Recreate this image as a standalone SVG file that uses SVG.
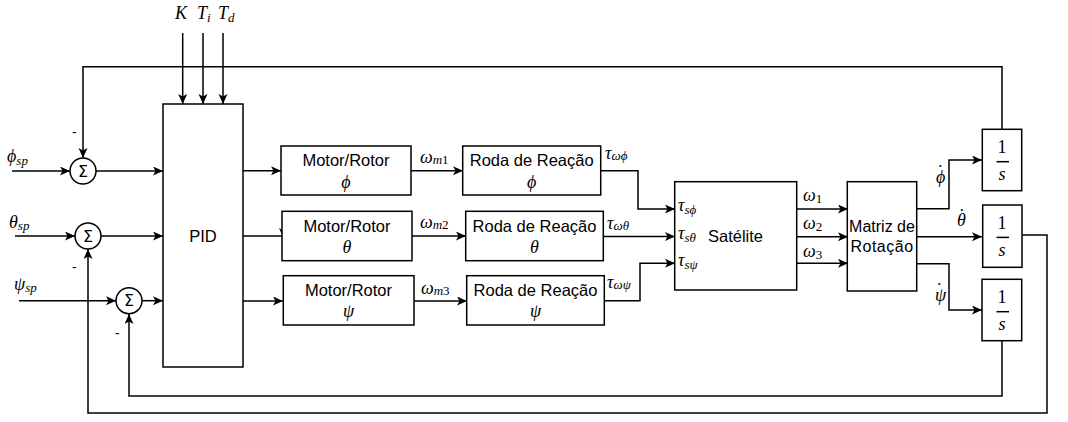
<svg xmlns="http://www.w3.org/2000/svg" width="1068" height="422" viewBox="0 0 1068 422">
<style>
.box{fill:#fff;stroke:#000;stroke-width:1.5}
.ln{fill:none;stroke:#000;stroke-width:1.5}
.arr{marker-end:url(#ah)}
.t{font-family:"Liberation Sans",Arial,sans-serif;font-size:16.5px;fill:#000}
.m{font-family:"Liberation Serif","Times New Roman",serif;font-style:italic;font-size:18px;fill:#000}
.s{font-size:13px}
.u{font-style:normal}
.sig{font-family:"DejaVu Sans",sans-serif;font-size:16px;fill:#000}
.neg{font-family:"Liberation Sans",Arial,sans-serif;font-size:14px;fill:#000}
</style>
<defs>
<marker id="ah" markerUnits="userSpaceOnUse" markerWidth="12" markerHeight="10" refX="10" refY="4.5" orient="auto">
<path d="M0,0 L10,4.5 L0,9 L2.5,4.5 z" fill="#000"/>
</marker>
</defs>
<rect width="1068" height="422" fill="#fff"/>

<g id="connectors">
<path class="ln arr" d="M182.7,33 V104"/>
<path class="ln arr" d="M203,33 V104"/>
<path class="ln arr" d="M223,33 V104"/>
<path class="ln arr" d="M1002,129 V66.7 H83 V158"/>
<path class="ln arr" d="M12,171 H70"/>
<path class="ln arr" d="M96,171 H163"/>
<path class="ln arr" d="M15,236 H75"/>
<path class="ln arr" d="M101,236 H163"/>
<path class="ln arr" d="M19,300.7 H116"/>
<path class="ln arr" d="M142,300.7 H163"/>
<path class="ln arr" d="M1022,235 H1047 V413 H88 V249"/>
<path class="ln arr" d="M1002,341 V396 H129 V314"/>
<path class="ln arr" d="M243,170.7 H281"/>
<path class="ln" d="M243,236 H282"/>
<path d="M283,237 L279,228 L283,230.5 L287,228 z" fill="#000"/>
<path class="ln arr" d="M243,301 H283"/>
<path class="ln arr" d="M411,170.7 H463"/>
<path class="ln arr" d="M412,236 H466"/>
<path class="ln arr" d="M414,301 H467"/>
<path class="ln arr" d="M601,170.7 H638 V209 H675"/>
<path class="ln arr" d="M603,236.5 H675"/>
<path class="ln arr" d="M604,300.7 H640 V263.3 H675"/>
<path class="ln arr" d="M797,209 H848"/>
<path class="ln arr" d="M797,236.7 H848"/>
<path class="ln arr" d="M797,263.3 H848"/>
<path class="ln arr" d="M917,208.7 H949 V160 H982"/>
<path class="ln arr" d="M917,236.7 H982"/>
<path class="ln arr" d="M917,263.7 H949 V310 H982"/>
</g>

<g id="labels">
<text class="m" x="175" y="19">K</text>
<text class="m" x="197" y="19">T<tspan class="s" dy="3">i</tspan></text>
<text class="m" x="218" y="19">T<tspan class="s" dy="3">d</tspan></text>
<text class="m" x="7" y="162">ϕ<tspan class="s" dy="3">sp</tspan></text>
<text class="m" x="9" y="228">θ<tspan class="s" dy="2">sp</tspan></text>
<text class="m" x="14" y="290">ψ<tspan class="s" dy="2">sp</tspan></text>
<text class="neg" x="72" y="137">-</text>
<text class="neg" x="72" y="272">-</text>
<text class="neg" x="115" y="338">-</text>
<text class="m" x="420" y="163">ω<tspan class="s" dy="1">m<tspan class="u">1</tspan></tspan></text>
<text class="m" x="420" y="228">ω<tspan class="s" dy="1">m<tspan class="u">2</tspan></tspan></text>
<text class="m" x="421" y="294">ω<tspan class="s" dy="1">m<tspan class="u">3</tspan></tspan></text>
<text class="m" x="605" y="159">τ<tspan class="s" dy="1">ωϕ</tspan></text>
<text class="m" x="607" y="229">τ<tspan class="s" dy="1">ωθ</tspan></text>
<text class="m" x="607" y="288">τ<tspan class="s" dy="1">ωψ</tspan></text>
<text class="m" x="803" y="201">ω<tspan class="s u" dy="2">1</tspan></text>
<text class="m" x="803" y="229">ω<tspan class="s u" dy="2">2</tspan></text>
<text class="m" x="803" y="257">ω<tspan class="s u" dy="2">3</tspan></text>
<text class="m" x="936" y="183">ϕ<tspan class="u" dx="-8" dy="-5">˙</tspan></text>
<text class="m" x="957" y="226">θ<tspan class="u" dx="-7" dy="-4">˙</tspan></text>
<text class="m" x="935" y="301">ψ<tspan class="u" dx="-10" dy="-5">˙</tspan></text>
</g>

<g id="sum1"><circle cx="83" cy="171" r="13" fill="#fff" stroke="#000" stroke-width="1.5"/><text class="sig" x="83" y="176.5" text-anchor="middle">Σ</text></g>
<g id="sum2"><circle cx="88" cy="236" r="13" fill="#fff" stroke="#000" stroke-width="1.5"/><text class="sig" x="88" y="241.5" text-anchor="middle">Σ</text></g>
<g id="sum3"><circle cx="129" cy="300.7" r="13" fill="#fff" stroke="#000" stroke-width="1.5"/><text class="sig" x="129" y="306.2" text-anchor="middle">Σ</text></g>

<g id="pid"><rect class="box" x="163" y="104" width="80" height="263"/><text class="t" x="203" y="242" text-anchor="middle">PID</text></g>

<g id="motor1"><rect class="box" x="281" y="146" width="130" height="49"/><text class="t" x="346" y="166" text-anchor="middle">Motor/Rotor</text><text class="m" x="346" y="188" text-anchor="middle">ϕ</text></g>
<g id="motor2"><rect class="box" x="282" y="211.3" width="130" height="49.4"/><text class="t" x="347" y="232" text-anchor="middle">Motor/Rotor</text><text class="m" x="347" y="253" text-anchor="middle">θ</text></g>
<g id="motor3"><rect class="box" x="283.3" y="275.7" width="130.7" height="49.3"/><text class="t" x="348.5" y="296" text-anchor="middle">Motor/Rotor</text><text class="m" x="348.5" y="317" text-anchor="middle">ψ</text></g>

<g id="roda1"><rect class="box" x="462.7" y="146" width="138" height="49"/><text class="t" x="531.7" y="166" text-anchor="middle">Roda de Reação</text><text class="m" x="531.7" y="188" text-anchor="middle">ϕ</text></g>
<g id="roda2"><rect class="box" x="465.7" y="211.3" width="137.6" height="49.4"/><text class="t" x="534.5" y="232" text-anchor="middle">Roda de Reação</text><text class="m" x="534.5" y="253" text-anchor="middle">θ</text></g>
<g id="roda3"><rect class="box" x="466.7" y="275.7" width="137.6" height="49.3"/><text class="t" x="535.5" y="296" text-anchor="middle">Roda de Reação</text><text class="m" x="535.5" y="317" text-anchor="middle">ψ</text></g>

<g id="satelite"><rect class="box" x="674.7" y="181.7" width="122" height="108.3"/>
<text class="m" x="678" y="211">τ<tspan class="s" dy="3">sϕ</tspan></text>
<text class="m" x="678" y="239">τ<tspan class="s" dy="3">sθ</tspan></text>
<text class="m" x="678" y="266">τ<tspan class="s" dy="3">sψ</tspan></text>
<text class="t" x="708" y="242">Satélite</text></g>

<g id="matriz"><rect class="box" x="847.3" y="181.7" width="69.4" height="109.3"/><text class="t" x="882" y="232" text-anchor="middle" style="font-size:16px">Matriz de</text><text class="t" x="882" y="252" text-anchor="middle" letter-spacing="0.5" style="font-size:16px">Rotação</text></g>

<g id="int1"><rect class="box" x="982.3" y="129.3" width="39.4" height="61.4"/><text class="m u" x="1002" y="153" text-anchor="middle">1</text><path class="ln" d="M996.5,161.7 H1009" stroke-width="1"/><text class="m" x="1002" y="180" text-anchor="middle">s</text></g>
<g id="int2"><rect class="box" x="982.7" y="205" width="39.3" height="62.3"/><text class="m u" x="1002" y="229" text-anchor="middle">1</text><path class="ln" d="M996.5,237.4 H1009" stroke-width="1"/><text class="m" x="1002" y="256" text-anchor="middle">s</text></g>
<g id="int3"><rect class="box" x="982" y="279.3" width="39.7" height="61.4"/><text class="m u" x="1002" y="303" text-anchor="middle">1</text><path class="ln" d="M996.5,311.7 H1009" stroke-width="1"/><text class="m" x="1002" y="330" text-anchor="middle">s</text></g>
</svg>
